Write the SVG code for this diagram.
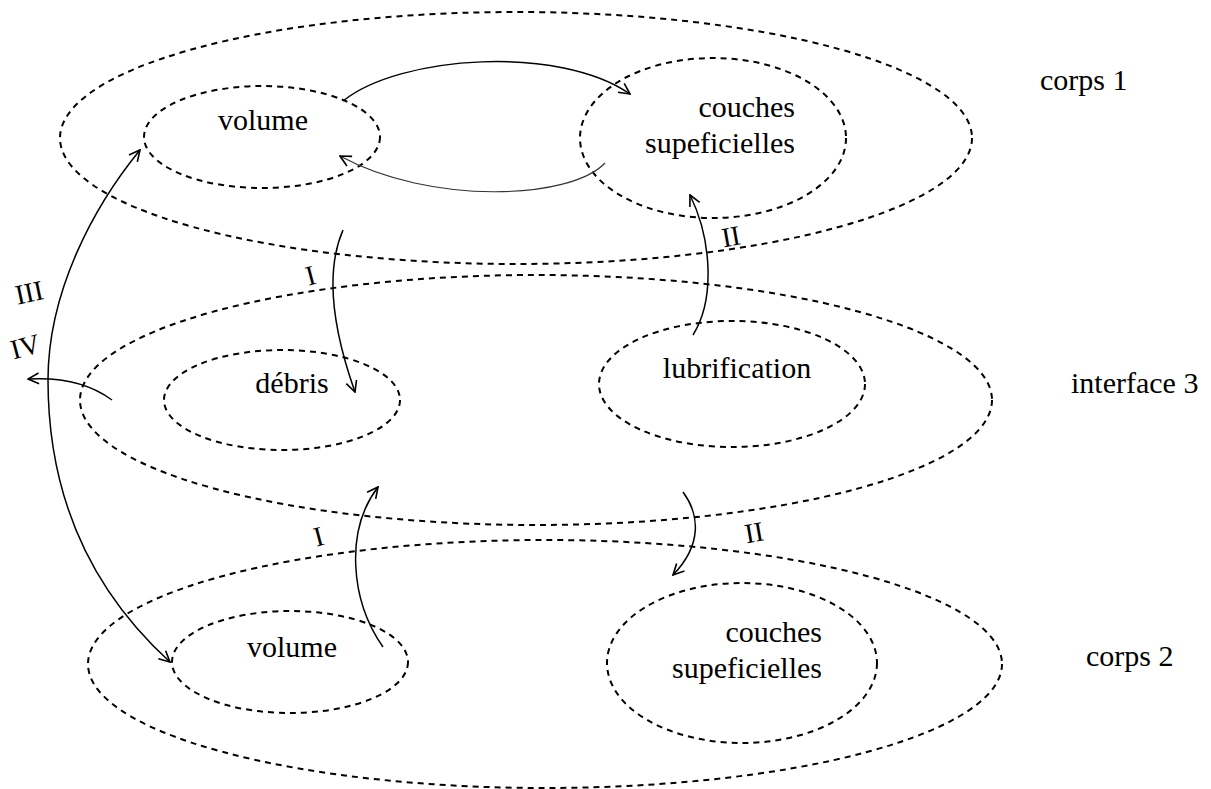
<svg xmlns="http://www.w3.org/2000/svg" width="1211" height="789" viewBox="0 0 1211 789">
<style>
  .el { fill: none; stroke: #000; stroke-width: 2; stroke-dasharray: 6 5; }
  .t { font-family: "Liberation Serif", "Times New Roman", serif; font-size: 30px; fill: #000; }
  .c { fill: none; stroke: #000; stroke-width: 1.5; }
  .faint { stroke: #333; stroke-width: 1.2; }
  .num { font-family: "Liberation Serif", "Times New Roman", serif; font-size: 28px; fill: #000; }
</style>
<defs>
  <marker id="ah" viewBox="0 0 12 12" refX="11" refY="6" markerWidth="13" markerHeight="13" orient="auto-start-reverse" markerUnits="userSpaceOnUse">
    <path d="M1,1 L11,6 L1,11" fill="none" stroke="#000" stroke-width="1.5"/>
  </marker>
</defs>
<rect width="1211" height="789" fill="#fff"/>

<g id="corps1">
  <ellipse class="el" cx="516" cy="138" rx="456" ry="126"/>
  <text class="t" x="1040" y="90">corps 1</text>
</g>
<g id="volume1">
  <ellipse class="el" cx="262" cy="137" rx="118" ry="51"/>
  <text class="t" x="263" y="130" text-anchor="middle">volume</text>
</g>
<g id="couches1">
  <ellipse class="el" cx="713" cy="138" rx="133" ry="80"/>
  <text class="t" x="795" y="117" text-anchor="end">couches</text>
  <text class="t" x="795" y="153" text-anchor="end">supeficielles</text>
</g>

<g id="interface3">
  <ellipse class="el" cx="536" cy="400" rx="456" ry="125"/>
  <text class="t" x="1071" y="393">interface 3</text>
</g>
<g id="debris">
  <ellipse class="el" cx="282" cy="400" rx="118" ry="50"/>
  <text class="t" x="292" y="393" text-anchor="middle">débris</text>
</g>
<g id="lubrification">
  <ellipse class="el" cx="732" cy="384" rx="133" ry="63"/>
  <text class="t" x="737" y="378" text-anchor="middle">lubrification</text>
</g>

<g id="corps2">
  <ellipse class="el" cx="545" cy="664" rx="457" ry="124"/>
  <text class="t" x="1086" y="666">corps 2</text>
</g>
<g id="volume2">
  <ellipse class="el" cx="290" cy="662" rx="118" ry="51"/>
  <text class="t" x="292" y="657" text-anchor="middle">volume</text>
</g>
<g id="couches2">
  <ellipse class="el" cx="742" cy="663" rx="135" ry="80"/>
  <text class="t" x="822" y="642" text-anchor="end">couches</text>
  <text class="t" x="822" y="678" text-anchor="end">supeficielles</text>
</g>

<g id="connectors">
  <path class="c" d="M343,101 C400,55 560,45 630,94" marker-end="url(#ah)"/>
  <path class="c faint" d="M605,163 C570,200 430,205 340,156" marker-end="url(#ah)"/>
  <path class="c" d="M140,150 C95,205 48,290 48,380 C48,480 80,580 170,662" marker-start="url(#ah)" marker-end="url(#ah)"/>
  <path class="c" d="M112,400 Q80,376 28,379" marker-end="url(#ah)"/>
  <path class="c" d="M343,230 C330,260 326,310 355,392" marker-end="url(#ah)"/>
  <path class="c" d="M383,647 C350,600 345,530 378,487" marker-end="url(#ah)"/>
  <path class="c" d="M693,335 C715,300 712,240 690,195" marker-end="url(#ah)"/>
  <path class="c" d="M683,492 C700,515 702,545 673,575" marker-end="url(#ah)"/>

  <text class="num" x="29" y="302" text-anchor="middle" transform="rotate(-12 29 292)">III</text>
  <text class="num" x="25" y="356" text-anchor="middle" transform="rotate(-15 25 345)">IV</text>
  <text class="num" x="310" y="285" text-anchor="middle" transform="rotate(-15 310 273)">I</text>
  <text class="num" x="318" y="546" text-anchor="middle" transform="rotate(-15 318 534)">I</text>
  <text class="num" x="731" y="246" text-anchor="middle" font-size="24" transform="rotate(-10 731 237)">II</text>
  <text class="num" x="754" y="542" text-anchor="middle" font-size="24" transform="rotate(-10 754 532)">II</text>
</g>
</svg>
